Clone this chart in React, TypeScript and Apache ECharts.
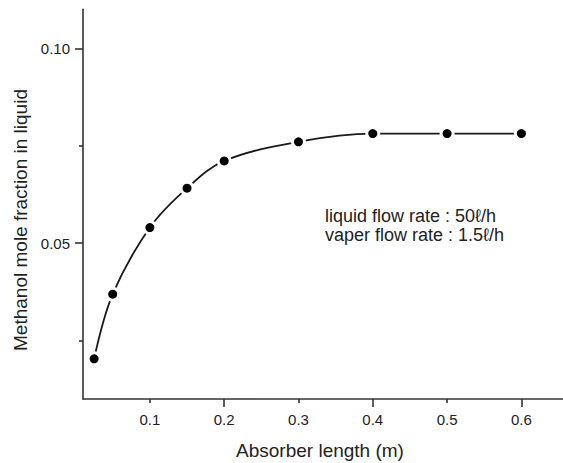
import React, { useEffect, useRef } from "react";
import * as echarts from "echarts";

const lengths = [0.025, 0.05, 0.1, 0.15, 0.2, 0.3, 0.4, 0.5, 0.6];
const fractions = [0.0203, 0.0369, 0.054, 0.0641, 0.0711, 0.076, 0.0781, 0.0781, 0.0781];
const xLabelTicks = [0.1, 0.2, 0.3, 0.4, 0.5, 0.6];
const xMajorTicks = [0.2, 0.4, 0.6];
const xMinorTicks = [0.1, 0.3, 0.5];
const yMajorTicks = [0.05, 0.1];
const yMinorTicks = [0.025, 0.075];
const annotationLines = ["liquid flow rate : 50ℓ/h", "vaper flow rate : 1.5ℓ/h"];

const FONT = "'Liberation Sans', Arial, Helvetica, sans-serif";
const AXIS = "#333";
const TEXT = "#222";

export default function App() {
  const ref = useRef<HTMLDivElement>(null);
  useEffect(() => {
    if (!ref.current) return;
    const chart = echarts.init(ref.current, undefined, { renderer: "svg" });
    const pts = lengths.map((x, i) => [x, fractions[i]]);
    const xBase = {
      type: "value",
      min: 0.01,
      max: 0.656,
      position: "bottom",
      splitLine: { show: false },
    };
    const yBase = {
      type: "value",
      min: 0.01,
      max: 0.11,
      position: "left",
      splitLine: { show: false },
    };
    chart.setOption({
      animation: false,
      backgroundColor: "#fff",
      grid: { left: 83, right: 0, top: 9.3, bottom: 64, containLabel: false },
      xAxis: [
        {
          ...xBase,
          axisLine: { show: true, lineStyle: { color: AXIS, width: 1.6 } },
          axisTick: { show: true, customValues: xMajorTicks, length: 8, lineStyle: { color: AXIS, width: 1.6 } },
          axisLabel: {
            show: true,
            customValues: xLabelTicks,
            margin: 13,
            fontSize: 15,
            fontFamily: FONT,
            color: TEXT,
            formatter: (v: number) => v.toFixed(1),
          },
        },
        {
          ...xBase,
          axisLine: { show: false },
          axisTick: { show: true, customValues: xMinorTicks, length: 4, lineStyle: { color: AXIS, width: 1.6 } },
          axisLabel: { show: false },
        },
      ],
      yAxis: [
        {
          ...yBase,
          axisLine: { show: true, lineStyle: { color: AXIS, width: 1.6 } },
          axisTick: { show: true, customValues: yMajorTicks, length: 8, lineStyle: { color: AXIS, width: 1.6 } },
          axisLabel: {
            show: true,
            customValues: yMajorTicks,
            margin: 13,
            fontSize: 15,
            fontFamily: FONT,
            color: TEXT,
            formatter: (v: number) => v.toFixed(2),
          },
        },
        {
          ...yBase,
          axisLine: { show: false },
          axisTick: { show: true, customValues: yMinorTicks, length: 4, lineStyle: { color: AXIS, width: 1.6 } },
          axisLabel: { show: false },
        },
      ],
      series: [
        {
          type: "line",
          data: pts,
          smooth: 0.35,
          showSymbol: false,
          lineStyle: { color: "#1a1a1a", width: 1.8 },
          z: 2,
        },
        {
          type: "scatter",
          data: pts,
          symbol: "circle",
          symbolSize: 15,
          itemStyle: { color: "#fff", opacity: 1 },
          z: 3,
        },
        {
          type: "scatter",
          data: pts,
          symbol: "circle",
          symbolSize: 9,
          itemStyle: { color: "#000", opacity: 1 },
          z: 4,
        },
      ],
      graphic: [
        {
          type: "text",
          x: 20,
          y: 220,
          rotation: Math.PI / 2,
          style: {
            text: "Methanol mole fraction in liquid",
            fontSize: 19,
            fontFamily: FONT,
            fill: TEXT,
            align: "center",
            verticalAlign: "middle",
          },
        },
        {
          type: "text",
          x: 320,
          y: 450,
          style: {
            text: "Absorber length (m)",
            fontSize: 19,
            fontFamily: FONT,
            fill: TEXT,
            align: "center",
            verticalAlign: "middle",
          },
        },
        ...annotationLines.map((t, i) => ({
          type: "text",
          x: 325,
          y: 215.5 + i * 19,
          style: {
            text: t,
            fontSize: 18,
            fontFamily: FONT,
            fill: TEXT,
            align: "left",
            verticalAlign: "middle",
          },
        })),
      ],
    });
    return () => chart.dispose();
  }, []);
  return (
    <div
      ref={ref}
      style={{ position: "absolute", left: 0, top: 0, width: 563, height: 463, background: "#fff" }}
    />
  );
}
